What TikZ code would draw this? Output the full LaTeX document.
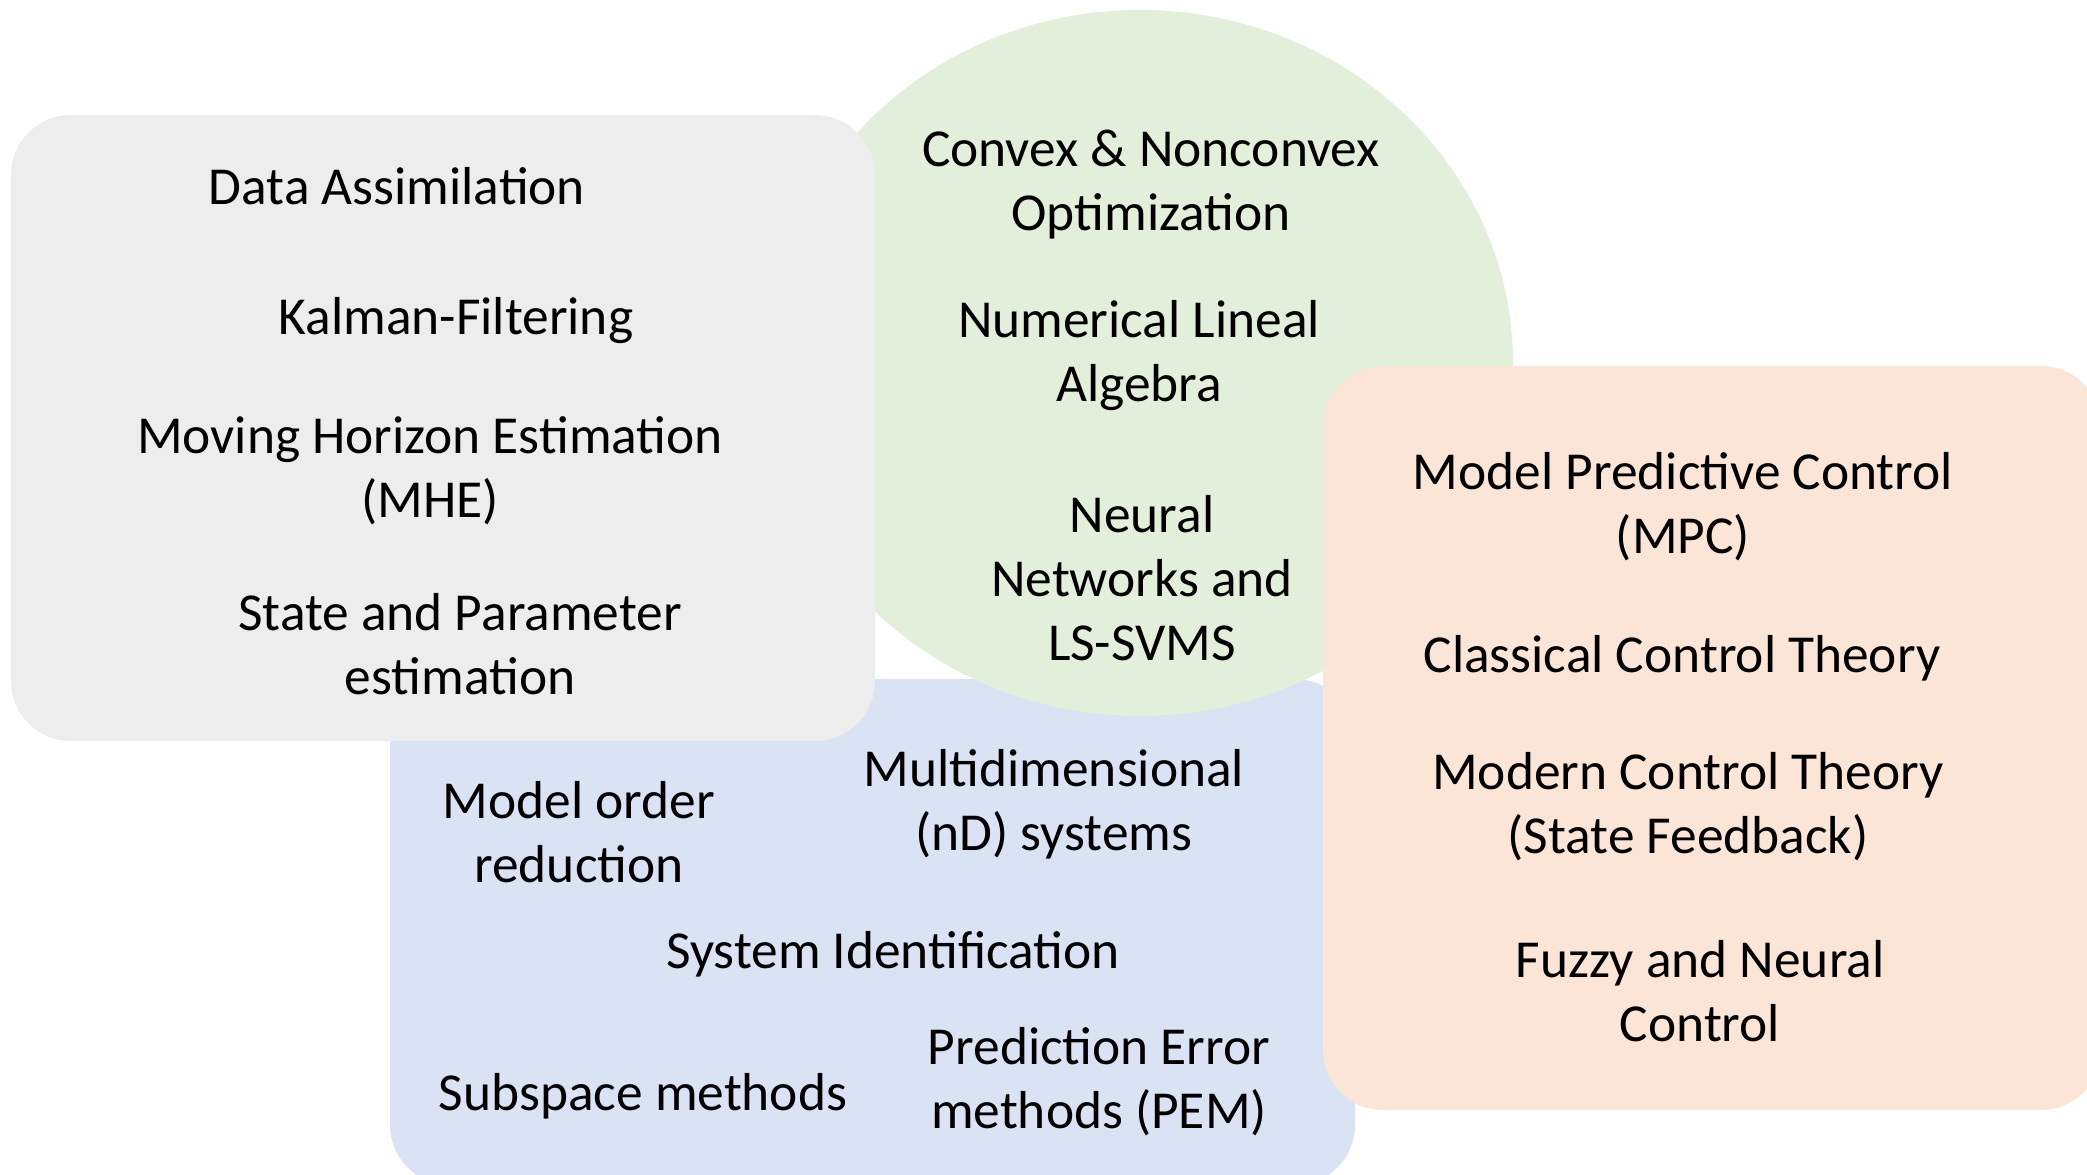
\documentclass[tikz,border=0pt]{standalone}
\usepackage{fontspec}
\setmainfont{Carlito}
\usepackage{xcolor}
\usetikzlibrary{shapes.geometric}
\definecolor{grayarea}{HTML}{EDEDED}
\definecolor{greenarea}{HTML}{E2EFDA}
\definecolor{bluearea}{HTML}{DAE3F3}
\definecolor{orangearea}{HTML}{FBE5D6}
\tikzstyle{area} = [rectangle, rounded corners=0.6cm, draw=none, inner sep=0pt]
\tikzstyle{topic} = [align=center, inner sep=0pt, font=\fontsize{15.2pt}{18.2pt}\selectfont]

\begin{document}
\begin{tikzpicture}[y=-1cm]
\useasboundingbox (0,0) rectangle (20.87,11.75);
\node[area, fill=bluearea, minimum width=9.65cm, minimum height=5.06cm] (ident) at (8.725,9.32) {};
\node[ellipse, fill=greenarea, draw=none, inner sep=0pt, minimum width=7.46cm, minimum height=7.06cm] (optim) at (11.40,3.63) {};
\node[area, fill=grayarea, minimum width=8.64cm, minimum height=6.26cm] (estim) at (4.43,4.28) {};
\node[area, fill=orangearea, minimum width=7.78cm, minimum height=7.44cm] (control) at (17.12,7.38) {};

\node[topic] (dataassim) at (3.97,1.86) {Data Assimilation};
\node[topic] (kalman) at (4.56,3.21) {Kalman-Filtering};
\node[topic] (mhe) at (4.30,4.705) {Moving Horizon Estimation\\(MHE)};
\node[topic] (stateparam) at (4.60,6.445) {State and Parameter\\estimation};

\node[topic] (convex) at (11.51,1.845) {Convex \& Nonconvex\\Optimization};
\node[topic] (linalg) at (11.39,3.555) {Numerical Lineal\\Algebra};
\node[topic] (neural) at (11.42,5.78) {Neural\\Networks and\\LS-SVMS};

\node[topic] (reduction) at (5.79,8.32) {Model order\\reduction};
\node[topic] (nd) at (10.54,8.04) {Multidimensional\\(nD) systems};
\node[topic] (sysid) at (8.93,9.54) {System Identification};
\node[topic] (subspace) at (6.43,10.96) {Subspace methods};
\node[topic] (pem) at (10.99,10.82) {Prediction Error\\methods (PEM)};

\node[topic] (mpc) at (16.83,5.07) {Model Predictive Control\\(MPC)};
\node[topic] (classical) at (16.82,6.58) {Classical Control Theory};
\node[topic] (modern) at (16.88,8.065) {Modern Control Theory\\(State Feedback)};
\node[topic] (fuzzy) at (17.00,9.91) {Fuzzy and Neural\\Control};
\end{tikzpicture}
\end{document}
